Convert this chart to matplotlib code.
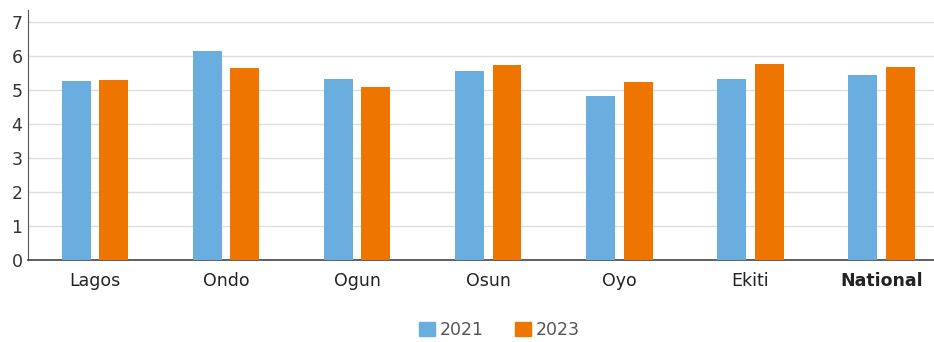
import matplotlib
matplotlib.use("Agg")
import matplotlib.pyplot as plt
import numpy as np
from matplotlib.patches import Patch

regions = ['Lagos', 'Ondo', 'Ogun', 'Osun', 'Oyo', 'Ekiti', 'National']
vals_2021 = [5.27, 6.14, 5.33, 5.56, 4.84, 5.33, 5.43]
vals_2023 = [5.30, 5.66, 5.08, 5.73, 5.24, 5.78, 5.67]
yticks = [0, 1, 2, 3, 4, 5, 6, 7]

blue = '#6aaedf'
orange = '#ee7600'

fig = plt.figure(figsize=(9.34, 3.42), dpi=100)
ax = fig.add_axes([0.030, 0.240, 0.970, 0.730])

x = np.arange(len(regions))
w = 0.22
off = 0.143
ax.bar(x - off, vals_2021, width=w, color=blue, zorder=3)
ax.bar(x + off, vals_2023, width=w, color=orange, zorder=3)

ax.set_xlim(-0.51, 6.4)
ax.set_ylim(0, 7.35)
ax.set_yticks(yticks)
ax.yaxis.grid(True, color='#dedede', linewidth=1, zorder=0)
ax.set_axisbelow(True)

for s in ['top', 'right']:
    ax.spines[s].set_visible(False)
ax.spines['left'].set_color('#555555')
ax.spines['bottom'].set_color('#444444')
ax.spines['bottom'].set_linewidth(1.2)

ax.set_xticks(x)
ax.set_xticklabels(regions)
ax.tick_params(axis='x', length=0, pad=9, labelsize=12.5, labelcolor='#222222')
ax.tick_params(axis='y', length=0, pad=4, labelsize=12.5, labelcolor='#333333')
ax.get_xticklabels()[-1].set_fontweight('bold')

handles = [Patch(color=blue, label='2021'), Patch(color=orange, label='2023')]
fig.legend(handles=handles, loc='center', bbox_to_anchor=(0.535, 0.035),
           ncol=2, frameon=False, fontsize=12.5, labelcolor='#555555',
           handlelength=0.9, handleheight=0.9, handletextpad=0.3,
           columnspacing=1.8)

fig.savefig('out.png', dpi=100)
